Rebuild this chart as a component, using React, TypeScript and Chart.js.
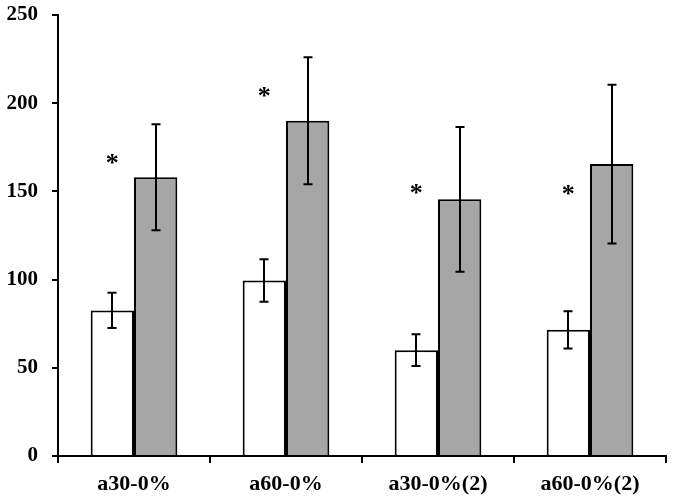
import React, { useEffect, useRef } from "react";
import { Chart, registerables } from "chart.js";

Chart.register(...registerables);

const categories = ["a30-0%", "a60-0%", "a30-0%(2)", "a60-0%(2)"];
const whiteValues = [82.5, 99.5, 60, 71.5];
const whiteErrors = [10, 12, 9, 10.5];
const grayValues = [158, 190, 145.5, 165.5];
const grayErrors = [30, 36, 41, 45];
const asteriskValues = [168, 206, 151, 150.5];
const yTicks = [0, 50, 100, 150, 200, 250];

const FONT = "'Liberation Serif', 'Times New Roman', serif";

const errorBarPlugin = {
  id: "errorBars",
  afterDatasetsDraw(chart: any) {
    const ctx = chart.ctx;
    const y = chart.scales.y;
    const errs = [whiteErrors, grayErrors];
    const vals = [whiteValues, grayValues];
    ctx.save();
    ctx.strokeStyle = "#000";
    ctx.lineWidth = 2;
    [0, 1].forEach((di) => {
      const meta = chart.getDatasetMeta(di);
      meta.data.forEach((bar: any, i: number) => {
        const x = Math.round(bar.x);
        const top = y.getPixelForValue(vals[di][i] + errs[di][i]);
        const bot = y.getPixelForValue(vals[di][i] - errs[di][i]);
        ctx.beginPath();
        ctx.moveTo(x, top);
        ctx.lineTo(x, bot);
        ctx.moveTo(x - 4.5, top);
        ctx.lineTo(x + 4.5, top);
        ctx.moveTo(x - 4.5, bot);
        ctx.lineTo(x + 4.5, bot);
        ctx.stroke();
      });
    });
    const meta0 = chart.getDatasetMeta(0);
    ctx.fillStyle = "#000";
    ctx.font = "bold 26px " + FONT;
    ctx.textAlign = "center";
    ctx.textBaseline = "middle";
    meta0.data.forEach((bar: any, i: number) => {
      ctx.fillText("*", bar.x, y.getPixelForValue(asteriskValues[i]) + 5);
    });
    ctx.restore();
  },
};

export default function App() {
  const ref = useRef<HTMLCanvasElement | null>(null);
  useEffect(() => {
    if (!ref.current) return;
    const chart = new Chart(ref.current, {
      type: "bar",
      data: {
        labels: categories,
        datasets: [
          {
            data: whiteValues,
            backgroundColor: "#ffffff",
            borderColor: "#000000",
            borderWidth: 2,
            categoryPercentage: 0.57,
            barPercentage: 1,
          },
          {
            data: grayValues,
            backgroundColor: "#a6a6a6",
            borderColor: "#000000",
            borderWidth: 2,
            categoryPercentage: 0.57,
            barPercentage: 1,
          },
        ],
      },
      options: {
        animation: false,
        responsive: false,
        maintainAspectRatio: false,
        layout: { padding: { top: 15, right: 9, left: 0, bottom: 0 } },
        plugins: { legend: { display: false }, tooltip: { enabled: false } },
        scales: {
          x: {
            offset: true,
            grid: {
              offset: true,
              drawOnChartArea: false,
              drawTicks: true,
              tickLength: 7,
              color: "#000",
              lineWidth: 2,
            },
            border: { display: true, color: "#000", width: 2 },
            ticks: {
              color: "#000",
              padding: 8,
              font: { family: FONT, size: 22, weight: "bold" },
            },
            afterFit(scale: any) {
              scale.height = 46;
              scale.paddingLeft = 0;
              scale.paddingRight = 0;
            },
          },
          y: {
            min: 0,
            max: 250,
            afterBuildTicks(scale: any) {
              scale.ticks = yTicks.map((v) => ({ value: v }));
            },
            grid: {
              drawOnChartArea: false,
              drawTicks: true,
              tickLength: 6,
              color: "#000",
              lineWidth: 2,
            },
            border: { display: true, color: "#000", width: 2 },
            ticks: {
              color: "#000",
              padding: 14,
              font: { family: FONT, size: 21, weight: "bold" },
            },
            afterFit(scale: any) {
              scale.width = 58;
              scale.paddingTop = 0;
              scale.paddingBottom = 0;
            },
          },
        },
      },
      plugins: [errorBarPlugin],
    });
    return () => chart.destroy();
  }, []);
  return (
    <div style={{ position: "fixed", left: 0, top: 0, width: 675, height: 502, background: "#fff" }}>
      <canvas ref={ref} width={675} height={502} style={{ width: 675, height: 502 }} />
    </div>
  );
}
